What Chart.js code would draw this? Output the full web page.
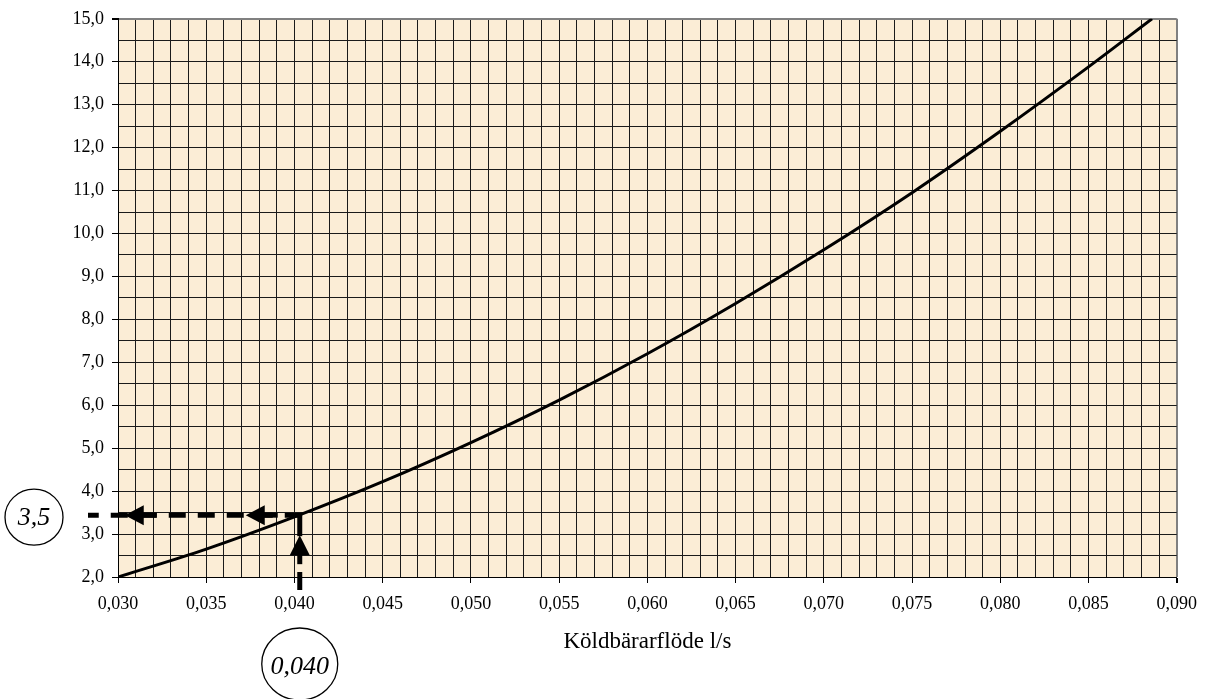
<!DOCTYPE html>
<html>
<head>
<meta charset="utf-8">
<script src="https://cdn.jsdelivr.net/npm/chart.js@4/dist/chart.umd.min.js"></script>
<style>
  html, body { margin: 0; padding: 0; background: #ffffff; }
  #wrap { width: 1207px; height: 699px; position: relative; }
</style>
</head>
<body>
<div id="wrap"><canvas id="c" width="1207" height="699"></canvas></div>
<script>
// ---- Data ----
const flowValues     = [0.030, 0.035, 0.040, 0.045, 0.050, 0.055, 0.060, 0.065, 0.070, 0.075, 0.080, 0.085, 0.0886];
const pressureValues = [2.00,  2.65,  3.40,  4.22,  5.13,  6.12,  7.20,  8.37,  9.62,  10.95, 12.38, 13.88, 15.00];

const xAxisTitle = 'Köldbärarflöde l/s';
const xMin = 0.030, xMax = 0.090, xStep = 0.001, xMajorEvery = 5;
const yMin = 2.0,   yMax = 15.0,  yStep = 0.5;

// Reading example (annotation)
const readFlow = 0.0403;
const readPressure = 3.44;
const readFlowLabel = '0,040';
const readPressureLabel = '3,5';

// ---- helpers ----
const fmt = (v, d) => v.toFixed(d).replace('.', ',');
const isMajorX = v => Math.round(v * 1000) % xMajorEvery === 0;
const isMajorY = v => Math.abs(v - Math.round(v)) < 1e-9;

const points = flowValues.map((x, i) => ({ x: x, y: pressureValues[i] }));

Chart.defaults.color = '#000';
Chart.defaults.font.family = "'Liberation Serif', 'Times New Roman', serif";

const bgPlugin = {
  id: 'plotBg',
  beforeDraw(chart) {
    const { ctx, chartArea: a } = chart;
    ctx.save();
    ctx.fillStyle = '#FBEDD6';
    ctx.fillRect(a.left, a.top, a.right - a.left, a.bottom - a.top);
    ctx.restore();
  }
};

function arrowHead(ctx, tipX, tipY, dir, len, half) {
  // dir: 'left' or 'up'
  ctx.beginPath();
  if (dir === 'left') {
    ctx.moveTo(tipX, tipY);
    ctx.lineTo(tipX + len, tipY - half);
    ctx.lineTo(tipX + len, tipY + half);
  } else {
    ctx.moveTo(tipX, tipY);
    ctx.lineTo(tipX - half, tipY + len);
    ctx.lineTo(tipX + half, tipY + len);
  }
  ctx.closePath();
  ctx.fill();
}

const annotPlugin = {
  id: 'readingAnnot',
  afterDraw(chart) {
    const { ctx, chartArea: a, scales: { x, y } } = chart;
    const xv = x.getPixelForValue(readFlow);
    const yv = y.getPixelForValue(readPressure);
    ctx.save();
    ctx.strokeStyle = '#000';
    ctx.fillStyle = '#000';
    ctx.lineWidth = 5;
    ctx.lineCap = 'butt';

    // horizontal dashed line, from the reading point to the left
    const xEnd = a.left - 30;
    ctx.setLineDash([17, 12]);
    ctx.beginPath();
    ctx.moveTo(xv + 2, yv);
    ctx.lineTo(xEnd, yv);
    ctx.stroke();
    ctx.setLineDash([]);
    // arrows on the horizontal line
    [54, 175].forEach(off => {
      const tip = xv - off;
      ctx.beginPath();
      ctx.moveTo(tip + 15, yv);
      ctx.lineTo(tip + 32, yv);
      ctx.stroke();
      arrowHead(ctx, tip, yv, 'left', 19, 10);
    });

    // vertical line from below the axis up to the reading point
    ctx.beginPath();
    ctx.moveTo(xv, yv - 2);
    ctx.lineTo(xv, yv + 21);
    ctx.stroke();
    arrowHead(ctx, xv, yv + 20, 'up', 20, 10);
    ctx.beginPath();
    ctx.moveTo(xv, yv + 38);
    ctx.lineTo(xv, yv + 49);
    ctx.stroke();
    ctx.beginPath();
    ctx.moveTo(xv, a.bottom - 5);
    ctx.lineTo(xv, a.bottom + 13);
    ctx.stroke();

    // circled labels
    ctx.lineWidth = 1.3;
    ctx.font = "italic 26px 'Liberation Serif', 'Times New Roman', serif";
    ctx.textAlign = 'center';
    ctx.textBaseline = 'middle';

    const c1x = a.left - 84, c1y = yv + 2;
    ctx.beginPath();
    ctx.ellipse(c1x, c1y, 29, 28, 0, 0, Math.PI * 2);
    ctx.stroke();
    ctx.fillText(readPressureLabel, c1x, c1y + 1);

    const c2x = xv, c2y = a.bottom + 87;
    ctx.beginPath();
    ctx.ellipse(c2x, c2y, 38, 36, 0, 0, Math.PI * 2);
    ctx.stroke();
    ctx.fillText(readFlowLabel, c2x, c2y + 3);
    ctx.restore();
  }
};

new Chart(document.getElementById('c'), {
  type: 'line',
  data: {
    datasets: [{
      data: points,
      borderColor: '#000',
      borderWidth: 3,
      pointRadius: 0,
      fill: false,
      cubicInterpolationMode: 'monotone'
    }]
  },
  options: {
    responsive: false,
    animation: false,
    events: [],
    layout: { padding: { left: 0, right: 29, top: 16, bottom: 0 } },
    plugins: { legend: { display: false }, tooltip: { enabled: false } },
    scales: {
      x: {
        type: 'linear',
        min: xMin, max: xMax,
        afterFit(s) { s.height = 122; },
        border: { color: '#000', width: 1 },
        grid: {
          color: c => (c.tick && Math.abs(c.tick.value - xMax) < 1e-9) ? '#808080' : '#1a1a1a',
          lineWidth: c => (c.tick && Math.abs(c.tick.value - xMax) < 1e-9) ? 2 : 1,
          tickColor: c => (c.tick && isMajorX(c.tick.value)) ? '#000' : 'rgba(0,0,0,0)',
          tickLength: 6
        },
        ticks: {
          stepSize: xStep,
          autoSkip: false,
          maxRotation: 0,
          padding: 10,
          font: { size: 18 },
          callback: v => isMajorX(v) ? fmt(v, 3) : ''
        },
        title: {
          display: true,
          text: xAxisTitle,
          font: { size: 23 },
          padding: { top: 4, bottom: 43 }
        }
      },
      y: {
        type: 'linear',
        min: yMin, max: yMax,
        afterFit(s) { s.width = 118; },
        border: { color: '#000', width: 1 },
        grid: {
          color: c => (c.tick && Math.abs(c.tick.value - yMax) < 1e-9) ? '#808080' : '#1a1a1a',
          lineWidth: c => (c.tick && Math.abs(c.tick.value - yMax) < 1e-9) ? 2 : 1,
          tickColor: c => (c.tick && isMajorY(c.tick.value)) ? '#000' : 'rgba(0,0,0,0)',
          tickLength: 6
        },
        ticks: {
          stepSize: yStep,
          autoSkip: false,
          padding: 8,
          font: { size: 18 },
          callback: v => isMajorY(v) ? fmt(v, 1) : ''
        }
      }
    }
  },
  plugins: [bgPlugin, annotPlugin]
});
</script>
</body>
</html>
